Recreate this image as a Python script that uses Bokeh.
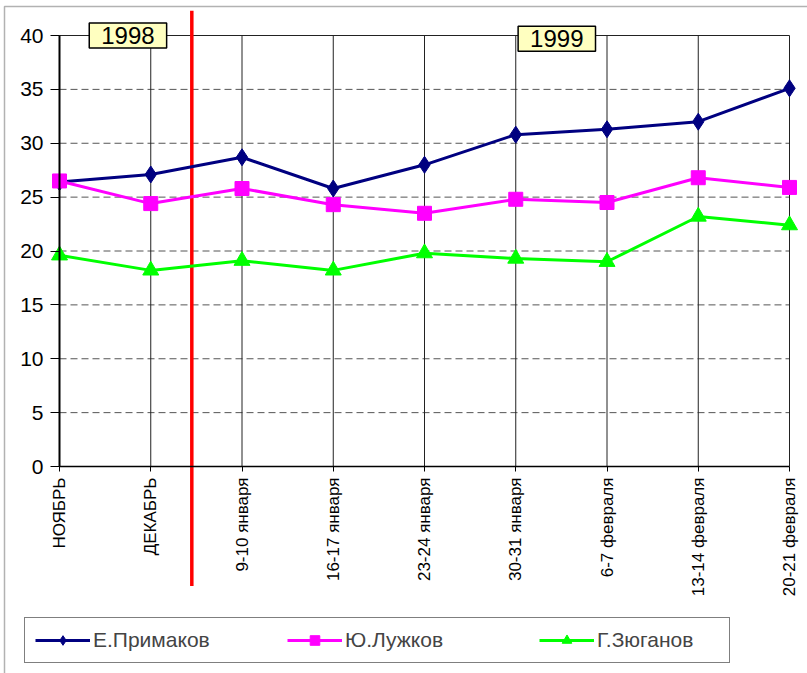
from bokeh.plotting import figure
from bokeh.models import Range1d, FixedTicker, Label, Legend, LegendItem, BoxAnnotation
from bokeh.embed import file_html
from bokeh.resources import INLINE
import math

categories = ["НОЯБРЬ", "ДЕКАБРЬ", "9-10 января", "16-17 января", "23-24 января",
              "30-31 января", "6-7 февраля", "13-14 февраля", "20-21 февраля"]
primakov = [26.4, 27.1, 28.7, 25.8, 28.0, 30.8, 31.3, 32.0, 35.1]
luzhkov = [26.5, 24.4, 25.8, 24.3, 23.5, 24.8, 24.5, 26.8, 25.9]
zyuganov = [19.6, 18.2, 19.1, 18.2, 19.8, 19.3, 19.0, 23.2, 22.4]
y_ticks = [0, 5, 10, 15, 20, 25, 30, 35, 40]
year_labels = ["1998", "1999"]
year_x = [0.75, 5.45]
year_y = [40.0, 39.7]
divider = 1.45

FONT = "Liberation Sans"
RED = "#FF0000"
W, H = 807, 673
# layout of the plotting area inside the canvas (pixels)
LEFT, RIGHT, TOP, BOTTOM = 59, 789, 35, 466
xs = list(range(len(categories)))
x_lo_v, x_hi_v = xs[0], xs[-1]
y_lo_v, y_hi_v = y_ticks[0], y_ticks[-1]
pxx = (RIGHT - LEFT) / (x_hi_v - x_lo_v)
pxy = (BOTTOM - TOP) / (y_hi_v - y_lo_v)
x_range = Range1d(x_lo_v - LEFT / pxx, x_hi_v + (W - RIGHT) / pxx)
y_range = Range1d(y_lo_v - (H - BOTTOM) / pxy, y_hi_v + TOP / pxy)

p = figure(width=W, height=H, output_backend="svg", toolbar_location=None,
           x_range=x_range, y_range=y_range, min_border=0)
p.outline_line_color = None
p.xgrid.visible = False
p.ygrid.visible = False

# axes placed at the data origin
p.xaxis.fixed_location = y_lo_v
p.xaxis.bounds = (x_lo_v, x_hi_v)
p.xaxis.ticker = FixedTicker(ticks=xs)
p.xaxis.major_label_overrides = {i: c for i, c in enumerate(categories)}
p.xaxis.major_label_orientation = math.pi / 2
p.xaxis.major_label_text_font = FONT
p.xaxis.major_label_text_font_size = "17px"
p.xaxis.major_label_text_color = "#000000"
p.xaxis.axis_line_color = "#000000"
p.xaxis.axis_line_width = 1.5
p.xaxis.major_tick_out = 5
p.xaxis.major_tick_in = 0
p.xaxis.major_label_standoff = 6
p.xaxis.minor_tick_line_color = None

p.yaxis.fixed_location = x_lo_v
p.yaxis.bounds = (y_lo_v, y_hi_v)
p.yaxis.ticker = FixedTicker(ticks=y_ticks)
p.yaxis.major_label_text_font = FONT
p.yaxis.major_label_text_font_size = "21px"
p.yaxis.major_label_text_color = "#000000"
p.yaxis.axis_line_color = "#000000"
p.yaxis.axis_line_width = 2
p.yaxis.major_tick_out = 9
p.yaxis.major_tick_in = 0
p.yaxis.major_label_standoff = 7
p.yaxis.minor_tick_line_color = None

# grid lines drawn from the tick values
inner = y_ticks[1:-1]
p.segment(x0=[x_lo_v] * len(inner), x1=[x_hi_v] * len(inner), y0=inner, y1=inner,
          line_color="#555555", line_width=1, line_dash="7 4")
p.segment(x0=[x_lo_v], x1=[x_hi_v], y0=[y_hi_v], y1=[y_hi_v],
          line_color="#222222", line_width=1)
p.segment(x0=xs, x1=xs, y0=[y_lo_v] * len(xs), y1=[y_hi_v] * len(xs),
          line_color="#222222", line_width=1)

# outer chart-area border
p.add_layout(BoxAnnotation(left=x_range.start + 4 / pxx, right=x_range.end + 1,
                           top=y_range.end - 6 / pxy, bottom=y_range.start - 1,
                           fill_color=None, fill_alpha=0, line_color="#000000",
                           line_width=1.5))

# red divider between 1998 and 1999
p.segment(x0=[divider], x1=[divider], y0=[-11.1], y1=[42.3], line_color=RED, line_width=3.5)

series = [
    ("Е.Примаков", primakov, "#000080", "diamond", 17),
    ("Ю.Лужков", luzhkov, "#FF00FF", "square", 14),
    ("Г.Зюганов", zyuganov, "#00FF00", "triangle", 16),
]
items = []
for name, vals, color, marker, size in series:
    l = p.line(xs, vals, line_color=color, line_width=3)
    s = p.scatter(xs, vals, marker=marker, size=size, fill_color=color, line_color=color)
    items.append(LegendItem(label=name, renderers=[l, s]))

for txt, xp, yp in zip(year_labels, year_x, year_y):
    p.add_layout(Label(x=xp, y=yp, text=txt, text_align="center", text_baseline="middle",
                       text_font=FONT, text_font_size="24px", text_color="#000000",
                       background_fill_color="#FFFFC0", border_line_color="#000000",
                       border_line_width=1.5,
                       padding=dict(top=4, right=12, bottom=4, left=12)))

legend = Legend(items=items, orientation="horizontal", location=(24, 10),
                label_text_font=FONT, label_text_font_size="21px",
                border_line_color="#000000", border_line_width=1,
                background_fill_color="#FFFFFF", background_fill_alpha=1,
                glyph_width=55, glyph_height=24, label_height=22, label_width=122,
                label_standoff=3, spacing=72, padding=10, margin=0)
p.add_layout(legend, "center")

open("out.html", "w").write(file_html(p, INLINE))
